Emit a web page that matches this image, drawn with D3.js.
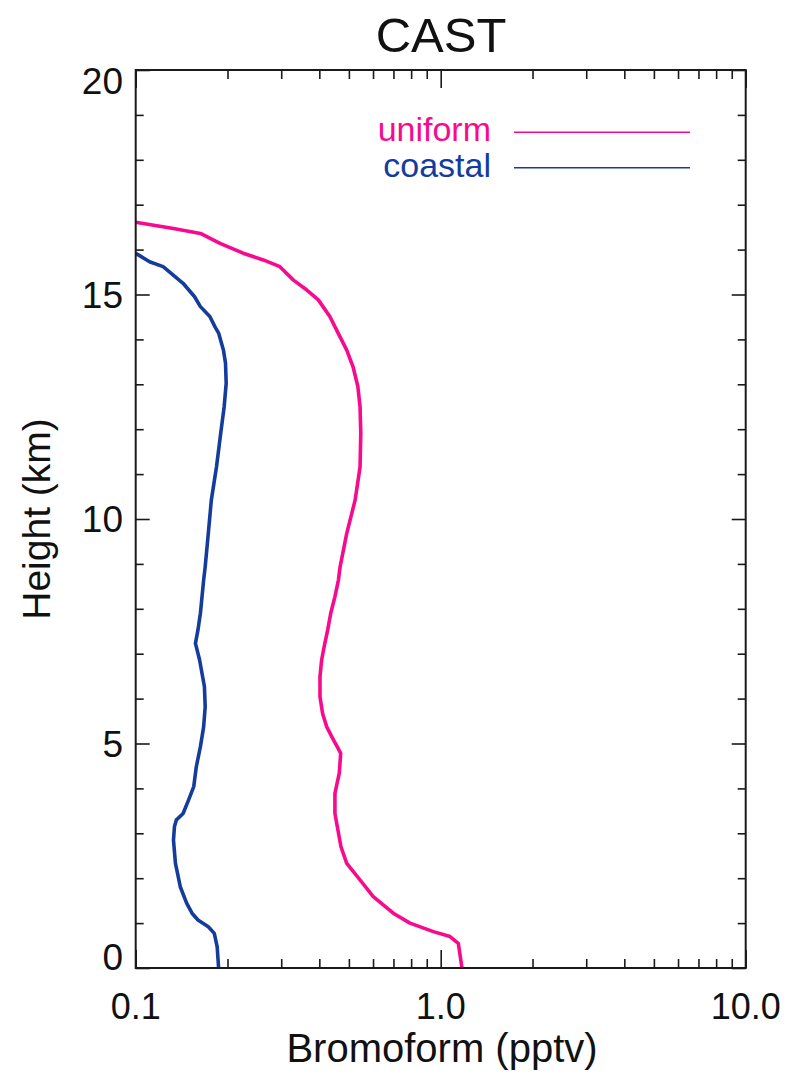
<!DOCTYPE html>
<html>
<head>
<meta charset="utf-8">
<script src="https://cdn.jsdelivr.net/npm/d3@7"></script>
<style>
  html, body { margin: 0; padding: 0; background: #fff; }
  text { font-family: "Liberation Sans", Arial, Helvetica, sans-serif; }
</style>
</head>
<body>
<svg id="chart" width="800" height="1073"></svg>
<script>
// ---------------- data ----------------
const title = "CAST";
const xLabel = "Bromoform (pptv)";
const yLabel = "Height (km)";
const seriesNames = ["uniform", "coastal"];
const seriesColors = ["#f70a8d", "#143c9c"];

const uniformHeight = [0.0, 0.55, 0.70, 0.81, 1.00, 1.22, 1.59, 1.96, 2.33, 2.70, 3.44, 3.89, 4.34, 4.78, 4.89, 5.08, 5.37, 5.67, 6.04, 6.49, 6.86, 7.16, 7.53, 7.90, 8.27, 8.64, 8.94, 9.68, 10.42, 11.16, 11.91, 12.50, 12.95, 13.39, 13.76, 14.14, 14.51, 14.88, 15.10, 15.32, 15.62, 15.77, 15.92, 16.14, 16.36, 16.47, 16.61];
const uniformValue  = [1.174, 1.142, 1.073, 0.946, 0.793, 0.699, 0.601, 0.544, 0.492, 0.471, 0.450, 0.450, 0.465, 0.470, 0.461, 0.445, 0.423, 0.410, 0.402, 0.402, 0.407, 0.415, 0.426, 0.436, 0.450, 0.462, 0.468, 0.492, 0.524, 0.544, 0.547, 0.544, 0.535, 0.516, 0.492, 0.461, 0.433, 0.397, 0.364, 0.329, 0.297, 0.262, 0.225, 0.189, 0.163, 0.133, 0.100];

const coastalHeight = [0.0, 0.47, 0.77, 0.92, 1.07, 1.22, 1.44, 1.81, 2.33, 2.85, 3.15, 3.30, 3.44, 3.74, 4.04, 4.48, 4.93, 5.37, 5.82, 6.27, 6.56, 6.86, 7.23, 7.53, 7.90, 8.64, 8.94, 9.68, 10.42, 11.16, 11.91, 12.50, 13.02, 13.47, 13.76, 14.14, 14.28, 14.51, 14.73, 14.95, 15.25, 15.62, 15.73, 15.92];
const coastalValue  = [0.187, 0.185, 0.181, 0.173, 0.160, 0.153, 0.147, 0.140, 0.135, 0.133, 0.134, 0.136, 0.143, 0.149, 0.155, 0.158, 0.163, 0.167, 0.169, 0.168, 0.165, 0.162, 0.157, 0.160, 0.163, 0.167, 0.169, 0.173, 0.177, 0.184, 0.190, 0.195, 0.198, 0.197, 0.194, 0.187, 0.182, 0.175, 0.163, 0.156, 0.143, 0.123, 0.111, 0.100];

const xMajorTicks = [0.1, 1, 10];
const xMajorLabels = ["0.1", "1.0", "10.0"];
const xMinorTicks = [0.2, 0.3, 0.4, 0.5, 0.6, 0.7, 0.8, 0.9, 2, 3, 4, 5, 6, 7, 8, 9];
const yMajorTicks = [0, 5, 10, 15, 20];
const yMinorTicks = [1, 2, 3, 4, 6, 7, 8, 9, 11, 12, 13, 14, 16, 17, 18, 19];

// ---------------- layout ----------------
const L = 135.7, R = 745.7, T = 70, B = 968;
const svg = d3.select("#chart");
const x = d3.scaleLog().domain([0.1, 10]).range([L, R]);
const y = d3.scaleLinear().domain([0, 20]).range([B, T]);
const axisColor = "#1a1a1a";

// clip
svg.append("defs").append("clipPath").attr("id", "clip")
  .append("rect").attr("x", L).attr("y", T).attr("width", R - L).attr("height", B - T);

// lines
const series = [
  { h: uniformHeight, v: uniformValue },
  { h: coastalHeight, v: coastalValue }
];
const line = d3.line().x(d => x(d[0])).y(d => y(d[1]));
series.forEach((s, i) => {
  const pts = s.h.map((h, j) => [s.v[j], h]);
  svg.append("path")
    .attr("clip-path", "url(#clip)")
    .attr("d", line(pts))
    .attr("fill", "none")
    .attr("stroke", seriesColors[i])
    .attr("stroke-width", 3.6)
    .attr("stroke-linejoin", "round");
});

// axes helper
function drawAxis(axisGen, transform) {
  const g = svg.append("g").attr("transform", transform).call(axisGen);
  g.selectAll("text").remove();
  g.select(".domain").remove();
  g.selectAll("line").attr("stroke", axisColor).attr("stroke-width", 1.6);
  return g;
}
// bottom
drawAxis(d3.axisBottom(x).tickValues(xMajorTicks).tickSize(-18), `translate(0,${B})`);
drawAxis(d3.axisBottom(x).tickValues(xMinorTicks).tickSize(-9), `translate(0,${B})`);
// top
drawAxis(d3.axisTop(x).tickValues(xMajorTicks).tickSize(-18), `translate(0,${T})`);
drawAxis(d3.axisTop(x).tickValues(xMinorTicks).tickSize(-9), `translate(0,${T})`);
// left
drawAxis(d3.axisLeft(y).tickValues(yMajorTicks).tickSize(-14), `translate(${L},0)`);
drawAxis(d3.axisLeft(y).tickValues(yMinorTicks).tickSize(-8), `translate(${L},0)`);
// right
drawAxis(d3.axisRight(y).tickValues(yMajorTicks).tickSize(-14), `translate(${R},0)`);
drawAxis(d3.axisRight(y).tickValues(yMinorTicks).tickSize(-8), `translate(${R},0)`);

// frame
svg.append("rect").attr("x", L).attr("y", T).attr("width", R - L).attr("height", B - T)
  .attr("fill", "none").attr("stroke", axisColor).attr("stroke-width", 2);

// tick labels
xMajorTicks.forEach((t, i) => {
  svg.append("text").attr("x", x(t)).attr("y", 1019)
    .attr("text-anchor", "middle").attr("font-size", 36).attr("fill", "#111")
    .text(xMajorLabels[i]);
});
yMajorTicks.forEach(t => {
  let cy = y(t);
  if (t === 20) cy = 81;
  if (t === 0) cy = 957;
  svg.append("text").attr("x", 123).attr("y", cy + 13)
    .attr("text-anchor", "end").attr("font-size", 37).attr("fill", "#111")
    .text(String(t));
});

// titles
svg.append("text").attr("x", 441).attr("y", 52).attr("text-anchor", "middle")
  .attr("font-size", 49).attr("fill", "#111").text(title);
svg.append("text").attr("x", 442).attr("y", 1062).attr("text-anchor", "middle")
  .attr("font-size", 40).attr("fill", "#111").text(xLabel);
svg.append("text").attr("transform", `translate(50,${(T + B) / 2}) rotate(-90)`)
  .attr("text-anchor", "middle").attr("font-size", 39).attr("fill", "#111").text(yLabel);

// legend
const legY = [132.3, 167.7];
seriesNames.forEach((n, i) => {
  svg.append("text").attr("x", 491).attr("y", legY[i] + 9).attr("text-anchor", "end")
    .attr("font-size", 34).attr("fill", seriesColors[i]).text(n);
  svg.append("line").attr("x1", 514).attr("x2", 690).attr("y1", legY[i]).attr("y2", legY[i])
    .attr("stroke", seriesColors[i]).attr("stroke-width", 1.6);
});
</script>
</body>
</html>
